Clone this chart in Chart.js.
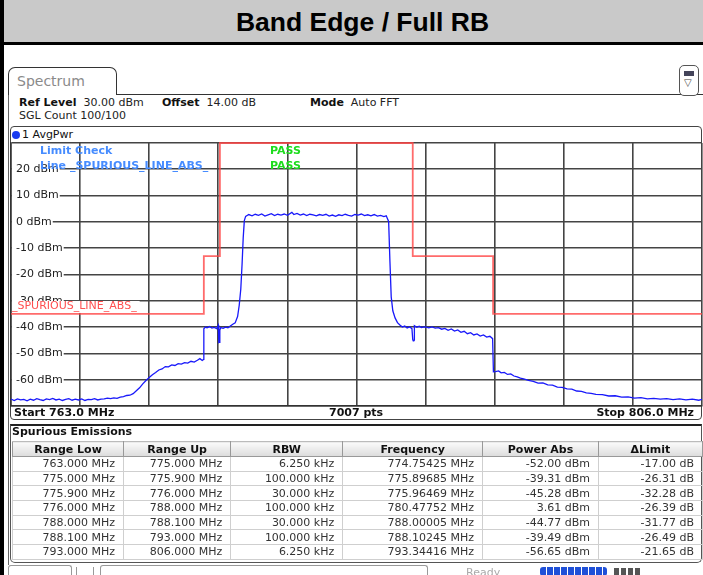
<!DOCTYPE html>
<html>
<head>
<meta charset="utf-8">
<script src="https://cdn.jsdelivr.net/npm/chart.js@4.4.1/dist/chart.umd.min.js"></script>
<style>
  body { margin: 0; width: 703px; height: 575px; overflow: hidden; background: #fff; position: relative;
         font-family: "DejaVu Sans", sans-serif; font-size: 11px; color: #222; }
  .abs { position: absolute; }
  #leftbar { left: 0; top: 0; width: 4px; height: 575px; background: #000; z-index: 2; }
  #title { left: 0; top: 0; width: 703px; height: 42px; background: #c9c9c9; border-bottom: 3px solid #000;
           padding-left: 11px; box-sizing: content-box;
           font: bold 26.5px "Liberation Sans", Arial, sans-serif; text-align: center; line-height: 44px; color: #000; }
  #tab { left: 8px; top: 67px; width: 109px; height: 28px; border: 1px solid #333; border-bottom: none;
         border-radius: 7px 7px 0 0; box-sizing: border-box; }
  #tab span { position: absolute; left: 8px; top: 5px; font-size: 14px; color: #8a8a8a; }
  #tabline { left: 116px; top: 94px; width: 587px; height: 1px; background: #333; }
  #panelleft { left: 8px; top: 95px; width: 1px; height: 470px; background: #666; }
  #menu { left: 679px; top: 65px; width: 20px; height: 31px; border: 1px solid #555; border-radius: 5px;
          box-sizing: border-box; background: #fff; }
  #menu i { position: absolute; left: 4px; top: 5px; width: 10px; height: 5px; background: #44445a; }
  #menu b { position: absolute; left: 4px; top: 11px; font-size: 10px; font-weight: normal; color: #444; }
  .info b { font-weight: bold; color: #111; }
  #diag { left: 10px; top: 126px; width: 692px; height: 294px; border: 1.5px solid #444; border-radius: 4px;
          box-sizing: border-box; }
  #trace1 { left: 12px; top: 128px; font-size: 11px; color: #111; }
  #trace1 i { display: inline-block; width: 8px; height: 8px; border-radius: 50%; background: #1a3cf0;
              margin-right: 2px; vertical-align: -1px; }
  #canvasWrap { left: 8px; top: 140px; width: 697px; height: 269px; }
  #footer { left: 11px; top: 406px; width: 691px; height: 13px; font-weight: bold; font-size: 11px; color: #111; }
  #footer span { position: absolute; top: 0; }
  #spur { left: 10px; top: 424px; width: 692px; height: 139px; border: 1.5px solid #555; border-top: 2px solid #222;
          border-radius: 0 0 5px 5px; box-sizing: border-box; }
  #spurTitle { left: 12px; top: 425px; font-weight: bold; color: #111; }
  table { position: absolute; left: 12px; top: 441px; border-collapse: collapse; font-size: 11px; color: #333; }
  th { height: 14px; padding: 0; font-weight: bold; color: #111; border: 1px solid #999; border-top: 1px solid #bbb;
       background: linear-gradient(#fafafa, #dcdcdc); text-align: center; }
  td { height: 13.7px; padding: 0 8px 0 0; border: 1px solid #cfcfcf; text-align: right; line-height: 13px; }
  #status { left: 0; top: 563px; width: 703px; height: 12px; }
</style>
</head>
<body>
<div class="abs" id="title">Band Edge / Full RB</div>
<div class="abs" id="leftbar"></div>

<div class="abs" id="tab"><span>Spectrum</span></div>
<div class="abs" id="tabline"></div>
<div class="abs" id="panelleft"></div>
<div class="abs" id="menu"><i></i><b>&#9661;</b></div>

<div class="abs info" style="left:19px;top:96px"><b>Ref Level</b>&nbsp; 30.00 dBm</div>
<div class="abs info" style="left:162px;top:96px"><b>Offset</b>&nbsp; 14.00 dB</div>
<div class="abs info" style="left:310px;top:96px"><b>Mode</b>&nbsp; Auto FFT</div>
<div class="abs info" style="left:19px;top:109px">SGL Count 100/100</div>

<div class="abs" id="diag"></div>
<div class="abs" id="trace1"><i></i>1 AvgPwr</div>
<div class="abs" id="canvasWrap"><canvas id="spectrum" width="697" height="269"></canvas></div>
<div class="abs" id="footer">
  <span style="left:3px">Start 763.0 MHz</span>
  <span style="left:318px">7007 pts</span>
  <span style="right:8px">Stop 806.0 MHz</span>
</div>

<div class="abs" id="spur"></div>
<div class="abs" id="spurTitle">Spurious Emissions</div>
<table id="spurTable"></table>

<div class="abs" id="status">
  <div class="abs" style="left:8px;top:2px;width:62px;height:12px;border:1px solid #999;border-bottom:none;border-radius:3px 3px 0 0"></div>
  <div class="abs" style="left:76px;top:4px;width:1px;height:8px;background:#999"></div>
  <div class="abs" style="left:93px;top:4px;width:1px;height:8px;background:#999"></div>
  <div class="abs" style="left:100px;top:2px;width:326px;height:12px;border:1px solid #999;border-bottom:none;border-radius:3px 3px 0 0"></div>
  <div class="abs" style="left:466px;top:3px;color:#aaa;font-size:11px">Ready</div>
  <div class="abs" style="left:540px;top:4px;width:67px;height:9px;border-radius:3px;background:repeating-linear-gradient(90deg,#1f50d8 0 6px,#fff 6px 7px)"></div>
  <div class="abs" style="left:614px;top:5px;width:26px;height:7px;background:repeating-linear-gradient(90deg,#555 0 5px,#fff 5px 7px)"></div>
</div>

<script>
// frequency axis and level axis settings
const xGridMHz = [763, 767.3, 771.6, 775.9, 780.2, 784.5, 788.8, 793.1, 797.4, 801.7, 806];
const yTicksDbm = [30, 20, 10, 0, -10, -20, -30, -40, -50, -60, -70];

// AvgPwr trace (MHz / dBm)
const freqMHz = [
  763.0, 763.2, 763.4, 763.6, 763.8, 764.0, 764.2, 764.4, 764.6, 764.8,
  765.0, 765.2, 765.4, 765.6, 765.8, 766.0, 766.2, 766.4, 766.6, 766.8,
  767.0, 767.2, 767.4, 767.6, 767.8, 768.0, 768.2, 768.4, 768.6, 768.8,
  769.0, 769.2, 769.4, 769.6, 769.8, 770.0, 770.2, 770.4, 770.6, 770.8,
  771.0, 771.2, 771.4, 771.6, 771.8, 772.0, 772.2, 772.4, 772.6, 772.8,
  773.0, 773.2, 773.4, 773.6, 773.8, 774.0, 774.2, 774.4, 774.6, 774.754,
  774.9, 774.98, 775.0, 775.1, 775.2, 775.35, 775.5, 775.65, 775.8, 775.897,
  775.93, 775.965, 775.99, 776.0, 776.05, 776.2, 776.35, 776.5, 776.65, 776.8,
  776.95, 777.1, 777.2, 777.3, 777.38, 777.45, 777.52, 777.6, 777.8, 778.0,
  778.2, 778.4, 778.6, 778.8, 779.0, 779.2, 779.4, 779.6, 779.8, 780.0,
  780.2, 780.478, 780.6, 780.8, 781.0, 781.2, 781.4, 781.6, 781.8, 782.0,
  782.2, 782.4, 782.6, 782.8, 783.0, 783.2, 783.4, 783.6, 783.8, 784.0,
  784.2, 784.4, 784.6, 784.8, 785.0, 785.2, 785.4, 785.6, 785.8, 786.0,
  786.2, 786.35, 786.5, 786.58, 786.66, 786.76, 786.9, 787.05, 787.2, 787.35,
  787.5, 787.65, 787.8, 787.95, 788.0, 788.03, 788.06, 788.09, 788.102, 788.25,
  788.4, 788.55, 788.7, 788.85, 789.0, 789.2, 789.4, 789.6, 789.8, 790.0,
  790.2, 790.4, 790.6, 790.8, 791.0, 791.2, 791.4, 791.6, 791.8, 792.0,
  792.2, 792.4, 792.6, 792.8, 792.97, 793.02, 793.15, 793.344, 793.5, 793.7,
  793.9, 794.1, 794.3, 794.5, 794.7, 794.9, 795.2, 795.5, 795.8, 796.1,
  796.4, 796.7, 797.0, 797.3, 797.6, 797.9, 798.2, 798.5, 798.8, 799.1,
  799.4, 799.8, 800.2, 800.6, 801.0, 801.4, 801.8, 802.2, 802.6, 803.0,
  803.4, 803.8, 804.2, 804.6, 805.0, 805.4, 805.8, 806.0
];
const levelDbm = [
  -67.4, -67.9, -67.3, -67.7, -67.5, -68.0, -67.4, -67.8, -67.2, -67.6,
  -67.9, -67.3, -67.6, -67.1, -67.7, -67.4, -67.9, -67.5, -67.2, -67.8,
  -67.4, -67.7, -67.3, -67.9, -67.5, -67.6, -67.2, -67.7, -67.4, -67.3,
  -67.0, -67.2, -66.9, -67.1, -66.6, -66.4, -66.0, -65.9, -65.3, -64.2,
  -63.1, -61.6, -60.3, -59.2, -58.1, -57.3, -56.3, -55.9, -55.0, -55.1,
  -54.4, -54.6, -53.9, -54.1, -53.5, -53.7, -53.0, -53.3, -52.6, -52.0,
  -52.7, -52.3, -40.6, -40.0, -40.3, -39.8, -40.4, -40.1, -40.6, -39.31,
  -45.6, -45.28, -45.5, -41.2, -40.2, -40.5, -40.0, -40.3, -39.6, -38.9,
  -38.4, -36.0, -31.8, -25.5, -16.0, -6.0, 0.5, 2.1, 2.8, 2.3,
  2.9, 2.5, 3.0, 2.2, 2.7, 3.1, 2.4, 2.9, 2.6, 3.0,
  2.5, 3.61, 2.8, 3.2, 2.6, 3.0, 2.4, 2.9, 2.7, 2.3,
  2.8, 2.5, 2.9, 2.2, 2.6, 2.1, 2.7, 2.4, 2.9, 2.5,
  2.2, 2.8, 2.6, 3.0, 2.4, 2.7, 2.3, 2.8, 2.2, 2.5,
  2.0, 2.3, 0.2, -15.0, -28.5, -33.8, -36.5, -38.3, -39.2, -40.0,
  -39.6, -40.3, -39.9, -40.6, -44.77, -45.2, -45.0, -44.9, -39.49, -40.1,
  -39.7, -40.2, -39.9, -40.0, -40.3, -39.9, -40.4, -40.2, -40.8, -40.5,
  -41.2, -40.7, -41.5, -41.1, -42.0, -41.6, -42.5, -42.1, -43.0, -42.6,
  -43.4, -43.0, -43.8, -43.5, -44.4, -57.0, -56.9, -56.65, -57.4, -57.2,
  -58.0, -57.8, -58.6, -58.9, -59.4, -59.7, -60.3, -60.6, -61.3, -61.2,
  -62.0, -62.1, -62.8, -62.9, -63.5, -63.6, -64.3, -64.4, -65.0, -65.2,
  -65.6, -65.7, -66.2, -66.1, -66.6, -66.5, -67.0, -66.8, -67.3, -67.1,
  -67.4, -67.2, -67.6, -67.3, -67.7, -67.4, -67.8, -67.5
];

// _SPURIOUS_LINE_ABS_ limit line vertices
const limitFreqMHz = [763, 775, 775, 776, 776, 788, 788, 793, 793, 806];
const limitDbm = [-35, -35, -13, -13, 30, 30, -13, -13, -35, -35];

// spurious emissions result table
const rangeLow = ['763.000 MHz', '775.000 MHz', '775.900 MHz', '776.000 MHz', '788.000 MHz', '788.100 MHz', '793.000 MHz'];
const rangeUp = ['775.000 MHz', '775.900 MHz', '776.000 MHz', '788.000 MHz', '788.100 MHz', '793.000 MHz', '806.000 MHz'];
const rbw = ['6.250 kHz', '100.000 kHz', '30.000 kHz', '100.000 kHz', '30.000 kHz', '100.000 kHz', '6.250 kHz'];
const peakFreq = ['774.75425 MHz', '775.89685 MHz', '775.96469 MHz', '780.47752 MHz', '788.00005 MHz', '788.10245 MHz', '793.34416 MHz'];
const powerAbs = [-52.00, -39.31, -45.28, 3.61, -44.77, -39.49, -56.65];
const deltaLimit = [-17.00, -26.31, -32.28, -26.39, -31.77, -26.49, -21.65];

// fill the table
const table = document.getElementById('spurTable');
const colWidths = [111, 107, 112, 140, 116, 104];
const heads = ['Range Low', 'Range Up', 'RBW', 'Frequency', 'Power Abs', '\u0394Limit'];
let html = '<tr>' + heads.map((h, i) => '<th style="width:' + colWidths[i] + 'px">' + h + '</th>').join('') + '</tr>';
for (let i = 0; i < rangeLow.length; i++) {
  html += '<tr><td>' + rangeLow[i] + '</td><td>' + rangeUp[i] + '</td><td>' + rbw[i] + '</td><td>' + peakFreq[i] +
    '</td><td>' + powerAbs[i].toFixed(2) + ' dBm</td><td>' + deltaLimit[i].toFixed(2) + ' dB</td></tr>';
}
table.innerHTML = html;

// texts written into the diagram after the traces
const overlayText = {
  id: 'overlayText',
  afterDatasetsDraw(chart) {
    const ctx = chart.ctx;
    const area = chart.chartArea;
    const y = chart.scales.y;
    ctx.save();
    ctx.textBaseline = 'middle';

    // limit line name, sitting on the line
    const lineY = y.getPixelForValue(-35);
    ctx.font = '11px "DejaVu Sans"';
    const name = '_SPURIOUS_LINE_ABS_';
    const w = ctx.measureText(name).width;
    ctx.fillStyle = '#fff';
    ctx.fillRect(area.left + 1, lineY - 13, w + 3, 12);
    ctx.fillStyle = 'rgb(255,80,80)';
    ctx.fillText(name, area.left + 1, lineY - 8);

    ctx.font = 'bold 11px "DejaVu Sans"';
    ctx.fillStyle = 'rgb(70,140,255)';
    ctx.fillText('Limit Check', area.left + 29, area.top + 8);
    ctx.fillText('Line _SPURIOUS_LINE_ABS_', area.left + 29, area.top + 23);
    ctx.fillStyle = 'rgb(30,220,30)';
    ctx.fillText('PASS', area.left + 259, area.top + 8);
    ctx.fillText('PASS', area.left + 259, area.top + 23);
    ctx.restore();
  }
};

Chart.defaults.font.family = '"DejaVu Sans", sans-serif';
Chart.defaults.font.size = 11;

new Chart(document.getElementById('spectrum'), {
  type: 'line',
  data: {
    datasets: [
      {
        label: '1 AvgPwr',
        data: freqMHz.map((f, i) => ({ x: f, y: levelDbm[i] })),
        borderColor: 'rgb(25,25,250)',
        borderWidth: 1.3,
        pointRadius: 0,
        order: 1
      },
      {
        label: '_SPURIOUS_LINE_ABS_',
        data: limitFreqMHz.map((f, i) => ({ x: f, y: limitDbm[i] })),
        borderColor: 'rgba(255,70,70,0.8)',
        borderWidth: 1.8,
        pointRadius: 0,
        clip: false,
        order: 2
      }
    ]
  },
  options: {
    responsive: false,
    animation: false,
    devicePixelRatio: 1,
    layout: { padding: 3 },
    plugins: { legend: { display: false }, tooltip: { enabled: false } },
    scales: {
      x: {
        type: 'linear',
        min: 763,
        max: 806,
        afterBuildTicks: (scale) => { scale.ticks = xGridMHz.map(v => ({ value: v })); },
        afterFit: (scale) => { scale.height = 0; scale.paddingLeft = 0; scale.paddingRight = 0; },
        ticks: { display: false },
        grid: { color: '#444', lineWidth: 1.6, drawTicks: false },
        border: { color: '#333', width: 1.5 }
      },
      y: {
        min: -70,
        max: 30,
        afterBuildTicks: (scale) => { scale.ticks = yTicksDbm.map(v => ({ value: v })); },
        afterFit: (scale) => { scale.width = 0; scale.paddingTop = 0; scale.paddingBottom = 0; },
        ticks: {
          mirror: true,
          padding: 5,
          color: '#222',
          font: { size: 11 },
          callback: (v) => (v >= 30 || v <= -70) ? '' : v + ' dBm',
          showLabelBackdrop: true,
          backdropColor: (c) => (c.tick && (c.tick.value >= 30 || c.tick.value <= -70)) ? 'rgba(0,0,0,0)' : '#fff',
          backdropPadding: { left: 4, right: 1, top: 1, bottom: 1 }
        },
        grid: { color: '#444', lineWidth: 1.6, drawTicks: false },
        border: { color: '#333', width: 1.5 }
      }
    }
  },
  plugins: [overlayText]
});
</script>
</body>
</html>
